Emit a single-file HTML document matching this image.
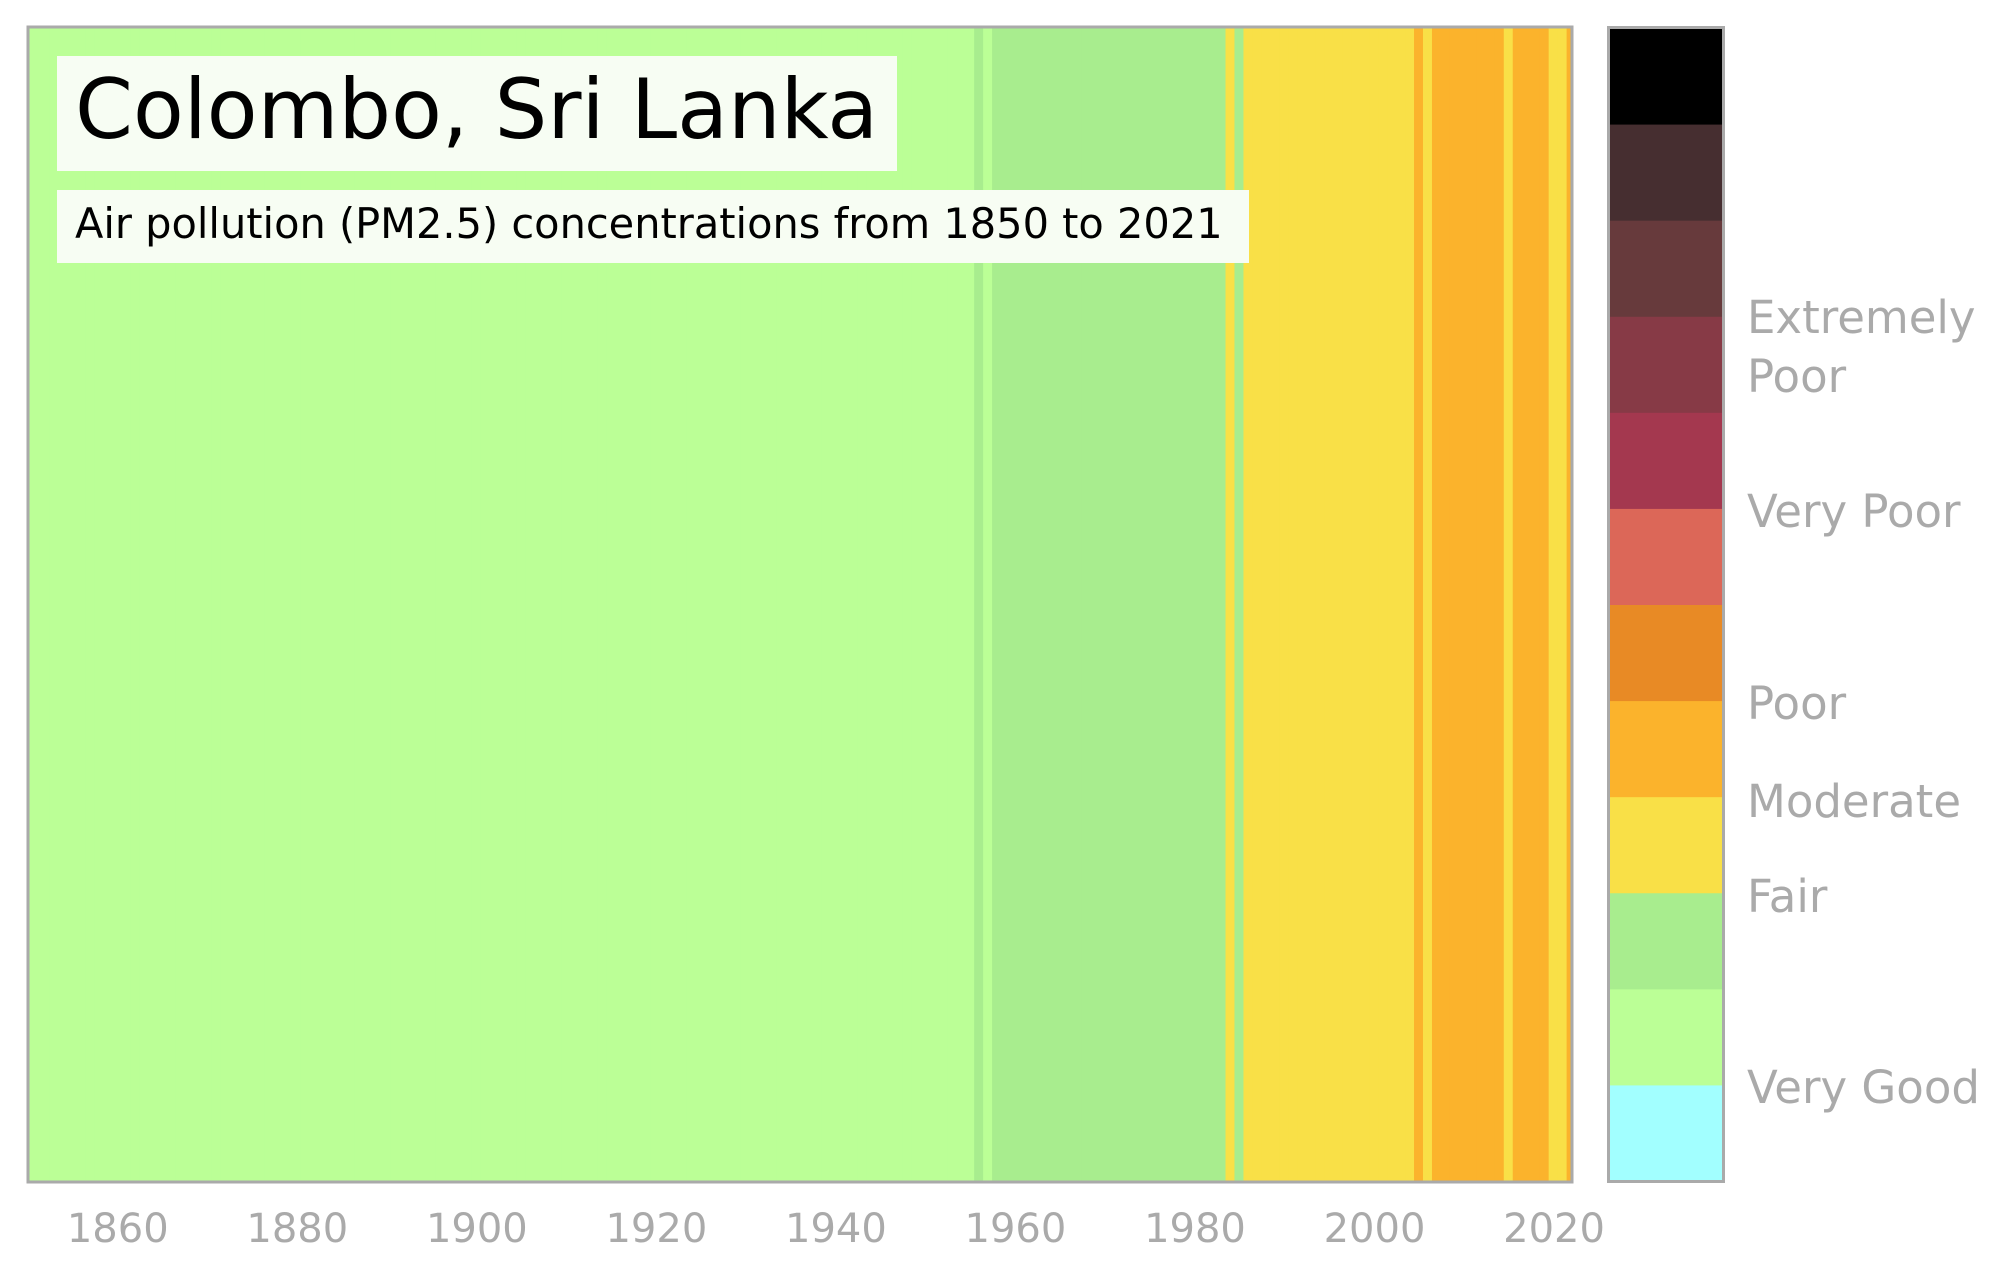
<!DOCTYPE html>
<html><head><meta charset="utf-8"><style>
html,body{margin:0;padding:0;background:#fff;}
svg{display:block;font-family:"DejaVu Sans","Liberation Sans",sans-serif;}
</style></head><body>
<svg id="chart" width="2004" height="1268" viewBox="0 0 2004 1268" xmlns="http://www.w3.org/2000/svg">
<defs><clipPath id="plotclip"><rect x="28" y="27" width="1544" height="1155"/></clipPath></defs>
<g id="stripes" clip-path="url(#plotclip)"></g>
<rect x="28" y="27" width="1544" height="1155" fill="none" stroke="#aaaaaa" stroke-width="3"/>
<rect x="57" y="56" width="840" height="115" fill="#f7fdf3"/>
<text x="75" y="138" font-size="83" fill="#000">Colombo, Sri Lanka</text>
<rect x="57" y="190" width="1192" height="73" fill="#f7fdf3"/>
<text x="75" y="238" font-size="41.5" fill="#000">Air pollution (PM2.5) concentrations from 1850 to 2021</text>
<g id="xticks"></g>
<g id="cbar"></g>
<rect x="1608.5" y="27.5" width="115" height="1154" fill="none" stroke="#aaaaaa" stroke-width="3"/>
<g id="cblabels" font-size="45" fill="#aaaaaa"></g>
</svg>
<script>
// Air-quality level per year, 1850..2022 (0=very good,1=good,2=fair,3=moderate)
const firstYear = 1850;
const levels = [
0,0,0,0,0,0,0,0,0,0, 0,0,0,0,0,0,0,0,0,0,
0,0,0,0,0,0,0,0,0,0, 0,0,0,0,0,0,0,0,0,0,
0,0,0,0,0,0,0,0,0,0, 0,0,0,0,0,0,0,0,0,0,
0,0,0,0,0,0,0,0,0,0, 0,0,0,0,0,0,0,0,0,0,
0,0,0,0,0,0,0,0,0,0, 0,0,0,0,0,0,0,0,0,0,
0,0,0,0,0,0,
1,0,1,1,1,1,1,1,1,1, 1,1,1,1,1,1,1,1,1,1, 1,1,1,1,1,1,1,1,
2,1,
2,2,2,2,2,2,2,2,2,2, 2,2,2,2,2,2,2,2,2,
3,2,3,3,3,3,3,3,3,3,
2,3,3,3,3,
2,2,3
];
const levelColors = ["#bbff96","#a8ed8e","#f9e047","#fbb32c"];
const xTicks = [1860,1880,1900,1920,1940,1960,1980,2000,2020];
const cbColors = ["#a2ffff","#bbff96","#a8ed8e","#f9e047","#fbb32c","#e88a25","#dc6758","#a4384f","#873a46","#673a3c","#462e30","#000000"];
const cbLabels = ["Very Good","Fair","Moderate","Poor","Very Poor","Extremely","Poor"];
const cbLabelY = [1103,912,817,719,527,333,392];

const NS="http://www.w3.org/2000/svg";
const x0=28, pxPerYear=1544/172, plotTop=27, plotBottom=1182;
function xScale(y){return x0+(y-1850)*pxPerYear;}
const sg=document.getElementById('stripes');
levels.forEach((lv,i)=>{
  const yr=firstYear+i;
  const r=document.createElementNS(NS,'rect');
  const xa=xScale(yr-0.6), xb=xScale(yr+0.4);
  r.setAttribute('x',xa);r.setAttribute('y',plotTop);
  r.setAttribute('width',xb-xa+0.5);r.setAttribute('height',plotBottom-plotTop);
  r.setAttribute('fill',levelColors[lv]);
  
  
  sg.appendChild(r);
});
const tg=document.getElementById('xticks');
xTicks.forEach(t=>{
  const tx=document.createElementNS(NS,'text');
  tx.setAttribute('x',xScale(t));tx.setAttribute('y',1242);
  tx.setAttribute('text-anchor','middle');tx.setAttribute('font-size','40');
  tx.setAttribute('fill','#aaaaaa');tx.textContent=t;
  
  
  tg.appendChild(tx);
});
const cg=document.getElementById('cbar');
const segH=(1181-28)/cbColors.length;
cbColors.forEach((c,i)=>{
  const r=document.createElementNS(NS,'rect');
  r.setAttribute('x',1610);r.setAttribute('width',113);
  r.setAttribute('y',1181-(i+1)*segH);r.setAttribute('height',segH+0.5);
  r.setAttribute('fill',c);
  
  
  cg.appendChild(r);
});
const lg=document.getElementById('cblabels');
cbLabels.forEach((l,i)=>{
  const tx=document.createElementNS(NS,'text');
  tx.setAttribute('x',1747);tx.setAttribute('y',cbLabelY[i]);
  tx.textContent=l;
  
  
  lg.appendChild(tx);
});
</script>
</body></html>
